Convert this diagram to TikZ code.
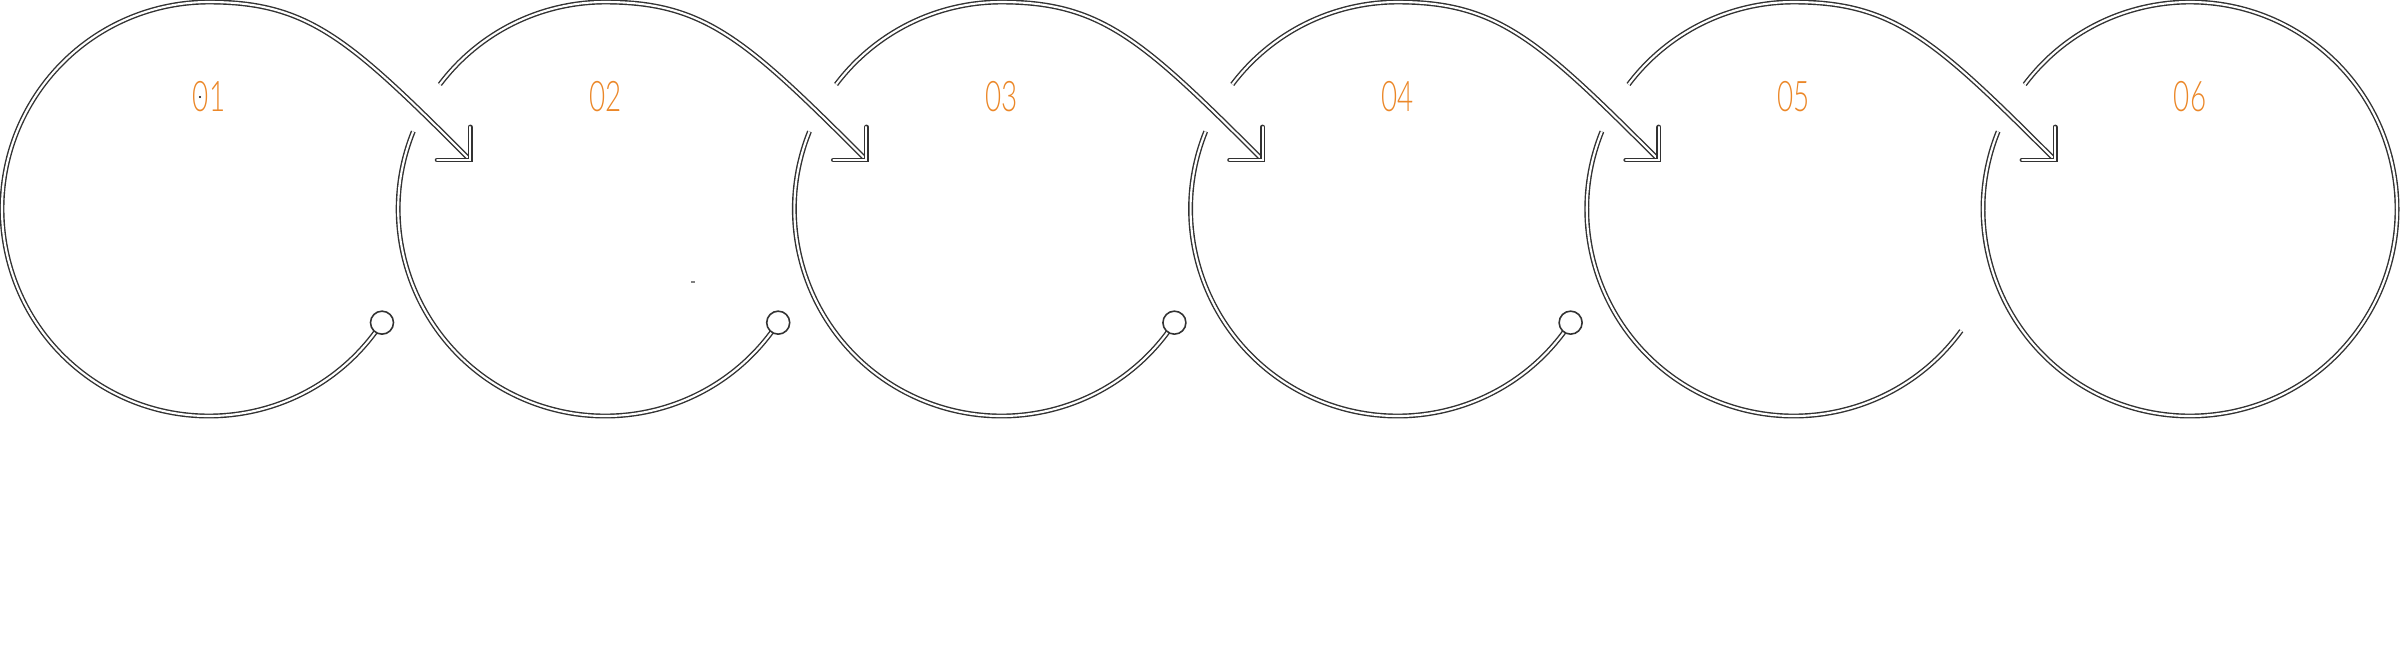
\documentclass[tikz,border=0pt]{standalone}
\usepackage{fontspec}
\newfontfamily\stepfont[FakeStretch=0.66]{Lato Light}
\usetikzlibrary{positioning}
\definecolor{steporange}{RGB}{235,135,40}
\definecolor{ringgray}{RGB}{50,50,50}

\begin{document}
\begin{tikzpicture}[
            ring/.style = {draw=ringgray, line width=0.4pt, double=white, double distance=0.6pt}, % hollow track
            knob/.style = {circle, draw=ringgray, line width=0.45pt, fill=white, minimum size=0.23cm, inner sep=0pt},
            num/.style = {text=steporange, font=\stepfont\fontsize{12}{14}\selectfont, inner sep=0pt}
        ]
        \useasboundingbox (0,0) rectangle (24,6.54);

        % centres of the rings and arrow tips
        \foreach \i in {1,...,6} {
            \coordinate (c\i) at ({2.09+3.962*(\i-1)}, 4.45);
            \coordinate (t\i) at ([shift={(-1.35,0.49)}]c\i);
        }

        \foreach \i in {1,...,6}
            \node[num, above=0.96cm of c\i] (n\i) {0\i};

        % first ring runs from its knob all round into the first arrow
        \draw[ring] ([shift={(-33.3:2.07)}]c1) arc[start angle=-33.3, end angle=-270, radius=2.07]
            .. controls +(1.0,0) and +(-1.2,1.2) .. (t2);

        % upper arcs of the middle rings
        \foreach \i/\j in {2/3, 3/4, 4/5, 5/6}
            \draw[ring] ([shift={(143:2.07)}]c\i) arc[start angle=143, end angle=90, radius=2.07]
                .. controls +(1.0,0) and +(-1.2,1.2) .. (t\j);

        % lower arcs
        \foreach \i in {2,3,4}
            \draw[ring] ([shift={(158:2.07)}]c\i) arc[start angle=158, end angle=326.7, radius=2.07];
        \draw[ring] ([shift={(158:2.07)}]c5) arc[start angle=158, end angle=324, radius=2.07];

        % last ring
        \draw[ring] ([shift={(143:2.07)}]c6) arc[start angle=143, end angle=-202, radius=2.07];

        % arrow heads
        \foreach \j in {2,...,6}
            \draw[ring, line cap=round] ([yshift=0.33cm]t\j) -- (t\j) -- ([xshift=-0.33cm]t\j);

        % knobs
        \foreach \i in {1,...,4}
            \node[knob] (k\i) at ([shift={(-33.3:2.07)}]c\i) {};

        \fill[black] (2.00,5.57) circle (0.012);
        \draw[gray, line width=0.3pt] (6.91,3.72) -- (6.95,3.72);
\end{tikzpicture}
\end{document}
